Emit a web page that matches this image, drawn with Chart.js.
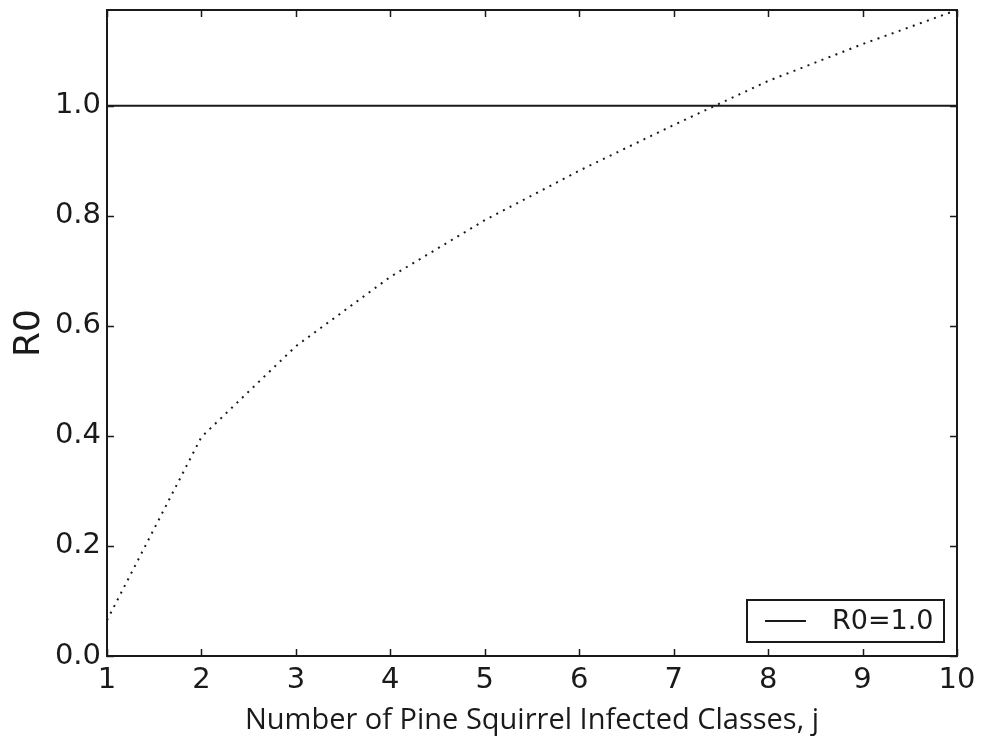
<!DOCTYPE html>
<html>
<head>
<meta charset="utf-8">
<script src="https://cdn.jsdelivr.net/npm/chart.js@4.4.1/dist/chart.umd.min.js"></script>
<style>
  html, body { margin: 0; padding: 0; background: #fff; }
  #c { display: block; }
</style>
</head>
<body>
<canvas id="c" width="990" height="738"></canvas>
<script>
// ---- data ----
const classes = [1, 2, 3, 4, 5, 6, 7, 8, 9, 10];
const r0Values = [0.065, 0.398, 0.563, 0.689, 0.792, 0.882, 0.965, 1.045, 1.112, 1.174];
const thresholdValue = 1.0;
const xTickValues = [1, 2, 3, 4, 5, 6, 7, 8, 9, 10];
const yTickValues = [0.0, 0.2, 0.4, 0.6, 0.8, 1.0];
const legendLabel = 'R0=1.0';
const xTitle = 'Number of Pine Squirrel Infected Classes, j';
const yTitle = 'R0';

const INK = '#1a1a1a';

const framePlugin = {
  id: 'frame',
  afterDraw(chart) {
    const ctx = chart.ctx;
    const a = chart.chartArea;
    const xs = chart.scales.x, ys = chart.scales.y;
    ctx.save();
    ctx.strokeStyle = INK;
    ctx.lineWidth = 2;
    ctx.strokeRect(a.left, a.top, a.right - a.left, a.bottom - a.top);
    ctx.lineWidth = 1.5;
    const L = 7;
    ctx.beginPath();
    xTickValues.forEach(v => {
      const px = Math.round(xs.getPixelForValue(v)) + 0.5;
      ctx.moveTo(px, a.bottom); ctx.lineTo(px, a.bottom - L);
      ctx.moveTo(px, a.top); ctx.lineTo(px, a.top + L);
    });
    yTickValues.forEach(v => {
      const py = Math.round(ys.getPixelForValue(v)) + 0.5;
      ctx.moveTo(a.left, py); ctx.lineTo(a.left + L, py);
      ctx.moveTo(a.right, py); ctx.lineTo(a.right - L, py);
    });
    ctx.stroke();

    // legend box
    const bx = 747, by = 600, bw = 197, bh = 42;
    ctx.fillStyle = '#fff';
    ctx.fillRect(bx, by, bw, bh);
    ctx.lineWidth = 2;
    ctx.strokeRect(bx, by, bw, bh);
    ctx.beginPath();
    ctx.moveTo(765, by + bh / 2); ctx.lineTo(806, by + bh / 2);
    ctx.stroke();
    ctx.fillStyle = INK;
    ctx.font = '27px "DejaVu Sans"';
    ctx.textBaseline = 'middle';
    ctx.textAlign = 'left';
    ctx.fillText(legendLabel, 832, by + bh / 2 + 1);
    ctx.restore();
  }
};

new Chart(document.getElementById('c'), {
  type: 'line',
  data: {
    datasets: [
      {
        label: 'R0',
        data: classes.map((x, i) => ({ x: x, y: r0Values[i] })),
        borderColor: INK,
        borderWidth: 2,
        borderDash: [2, 5.5],
        borderCapStyle: 'butt',
        pointRadius: 0,
        fill: false,
        tension: 0
      },
      {
        label: legendLabel,
        data: [{ x: classes[0], y: thresholdValue }, { x: classes[classes.length - 1], y: thresholdValue }],
        borderColor: INK,
        borderWidth: 2,
        pointRadius: 0,
        fill: false
      }
    ]
  },
  options: {
    responsive: false,
    animation: false,
    devicePixelRatio: 1,
    layout: { padding: { top: 10, right: 33, left: 0, bottom: 0 } },
    plugins: { legend: { display: false }, tooltip: { enabled: false } },
    scales: {
      x: {
        type: 'linear',
        min: 1, max: 10,
        afterBuildTicks: s => { s.ticks = xTickValues.map(v => ({ value: v })); },
        afterFit: s => { s.height = 82; s.paddingLeft = 0; s.paddingRight = 0; },
        grid: { display: false, drawTicks: false },
        border: { display: false },
        ticks: {
          color: INK, padding: 7,
          font: { family: 'DejaVu Sans', size: 29 },
          maxRotation: 0, autoSkip: false,
          callback: v => String(v)
        },
        title: {
          display: true, text: xTitle, color: INK,
          font: { family: 'Open Sans', size: 29 },
          padding: { top: 0, bottom: 0 }
        }
      },
      y: {
        type: 'linear',
        min: 0, max: 1.174,
        afterBuildTicks: s => { s.ticks = yTickValues.map(v => ({ value: v })); },
        afterFit: s => { s.width = 107; s.paddingTop = 0; s.paddingBottom = 0; },
        grid: { display: false, drawTicks: false },
        border: { display: false },
        ticks: {
          color: INK, padding: 6,
          font: { family: 'DejaVu Sans', size: 29 },
          autoSkip: false,
          callback: v => Number(v).toFixed(1)
        },
        title: {
          display: true, text: yTitle, color: INK,
          font: { family: 'DejaVu Sans', size: 36 },
          padding: { top: 8, bottom: 0 }
        }
      }
    }
  },
  plugins: [framePlugin]
});
</script>
</body>
</html>
